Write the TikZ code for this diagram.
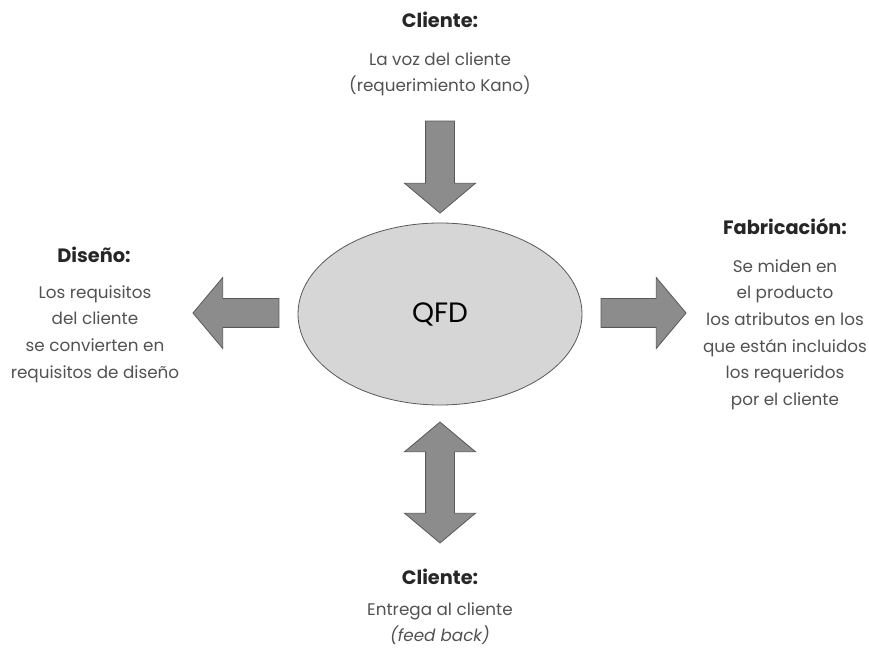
\documentclass[tikz,border=0pt]{standalone}
\usepackage{fontspec}
\setmainfont{Poppins}
\usetikzlibrary{shapes.geometric, shapes.arrows, calc}

\begin{document}
\begin{tikzpicture}[
    x=0.75pt, y=-0.75pt,
    core/.style={ellipse, draw=black!65, line width=0.6pt, fill=black!16, minimum width=213pt, minimum height=136.5pt, inner sep=0pt, font=\fontsize{21}{24}\selectfont},
    heading/.style={anchor=base, inner sep=0pt, font=\bfseries\fontsize{14.5}{17}\selectfont, text=black!85},
    bodytext/.style={anchor=north, align=center, inner sep=0pt, font=\fontsize{12.6}{20}\selectfont, text=black!68},
    blockarrow/.style={single arrow, draw=black!65, line width=0.6pt, fill=black!45, inner xsep=0pt, inner ysep=10.5pt, minimum width=0pt, single arrow head extend=15.75pt, single arrow tip angle=100},
    twoway/.style={double arrow, draw=black!65, line width=0.6pt, fill=black!45, inner xsep=0pt, inner ysep=10.5pt, minimum width=0pt, double arrow head extend=15.75pt, double arrow tip angle=100}
]
\useasboundingbox (0,0) rectangle (869,648);

% nodo central
\node[core] (qfd) at (440,314) {QFD};

% cliente (arriba)
\node[heading] (cliente_voz) at (440,28) {Cliente:};
\node[bodytext] (voz) at (440,52) {La voz del cliente\\(requerimiento Kano)};

% diseño (izquierda)
\node[heading] (diseno) at (94,263) {Diseño:};
\node[bodytext] (requisitos) at (95,285) {Los requisitos\\del cliente\\se convierten en\\requisitos de diseño};

% fabricación (derecha)
\node[heading] (fabricacion) at (785,235) {Fabricación:};
\node[bodytext] (atributos) at (785,259) {Se miden en\\el producto\\los atributos en los\\que están incluidos\\los requeridos\\por el cliente};

% cliente (abajo)
\node[heading] (cliente_entrega) at (440,585) {Cliente:};
\node[bodytext] (entrega) at (440,602) {Entrega al cliente\\\textit{(feed back)}};

% flechas
\node[blockarrow, minimum height=69pt, rotate=-90] (arrow_in) at (440,161) {};
\node[blockarrow, minimum height=64.5pt, rotate=180] (arrow_left) at (242,313) {};
\node[blockarrow, minimum height=63.75pt] (arrow_right) at (637.5,313) {};
\node[twoway, minimum height=90.75pt, rotate=90] (arrow_feedback) at (440,482.5) {};

\end{tikzpicture}
\end{document}
